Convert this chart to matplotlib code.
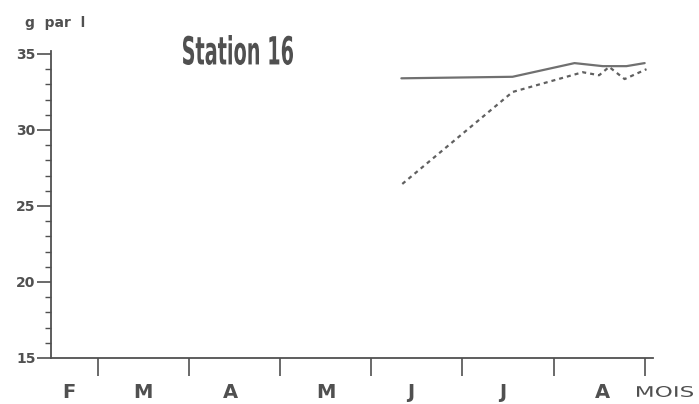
import numpy as np
import matplotlib.pyplot as plt
from matplotlib.transforms import blended_transform_factory, Affine2D, IdentityTransform
from matplotlib.textpath import TextPath
from matplotlib.font_manager import FontProperties
from matplotlib.patches import PathPatch

# months on the x axis: Feb starts at 1, Mar at 2, ... Sep at 8
month_labels = ["F", "M", "A", "M", "J", "J", "A"]
month_centers = [1.68, 2.49, 3.45, 4.5, 5.43, 6.44, 7.54]
month_bounds = [2, 3, 4, 5, 6, 7, 8]

# salinity (g par l)
solid_x = [5.33, 6.55, 7.23, 7.54, 7.80, 8.00]
solid_y = [33.4, 33.5, 34.4, 34.2, 34.2, 34.4]

dashed_x = [5.34, 6.55, 7.32, 7.50, 7.61, 7.78, 8.02]
dashed_y = [26.45, 32.5, 33.8, 33.6, 34.15, 33.35, 34.0]

W, H = 699, 404
ink = "#505050"
plt.rcParams['font.family'] = ['DejaVu Sans']


def boxed_text(fig, s, x0, x1, ytop, ybot, weight="bold", color=ink):
    """Draw s stretched to fill a pixel box (y measured from the top)."""
    tp = TextPath((0, 0), s, size=100,
                  prop=FontProperties(family="DejaVu Sans", weight=weight))
    bb = tp.get_extents()
    tr = (Affine2D().translate(-bb.x0, -bb.y0)
          .scale((x1 - x0) / bb.width, (ybot - ytop) / bb.height)
          .translate(x0, H - ybot))
    patch = PathPatch(tr.transform_path(tp), fc=color, ec="none", lw=0,
                      transform=IdentityTransform())
    fig.add_artist(patch)


fig = plt.figure(figsize=(W / 100, H / 100), dpi=100)
ax = fig.add_axes([0.073, 0.1139, 0.861, 0.760])

ax.plot(solid_x, solid_y, color="#707070", lw=1.6, solid_capstyle="round")
ax.plot(dashed_x, dashed_y, color="#606060", lw=1.6, linestyle=(0, (1.8, 1.8)))

ax.set_xlim(1.485, 8.09)
ax.set_ylim(15, 35.2)

for side in ("top", "right"):
    ax.spines[side].set_visible(False)
for side in ("left", "bottom"):
    ax.spines[side].set_color(ink)
    ax.spines[side].set_linewidth(1.3)

ax.set_yticks([15, 20, 25, 30, 35])
ax.set_yticks(np.arange(15, 35, 1), minor=True)
ax.tick_params(axis="y", which="major", direction="out", length=10, width=1.2,
               color=ink, labelcolor=ink, labelsize=10, pad=1)
ax.tick_params(axis="y", which="minor", direction="out", length=4, width=1.0, color=ink)
for lab in ax.get_yticklabels():
    lab.set_fontweight("bold")

ax.set_xticks(month_bounds)
ax.set_xticklabels([])
ax.tick_params(axis="x", which="major", direction="out", length=13, width=1.2, color=ink)

trans = blended_transform_factory(ax.transData, ax.transAxes)
for x, lab in zip(month_centers, month_labels):
    ax.text(x, -0.112, lab, transform=trans, ha="center", va="center",
            fontsize=14, fontweight="bold", color=ink)

boxed_text(fig, "MOIS", 637, 693, 386, 397, weight="normal")
fig.text(25 / W, 1 - 23 / H, "g  par  l", fontsize=10, fontweight="bold",
         color=ink, ha="left", va="center")
boxed_text(fig, "Station 16", 183, 293, 35, 65)

fig.savefig("out.png", dpi=100)
